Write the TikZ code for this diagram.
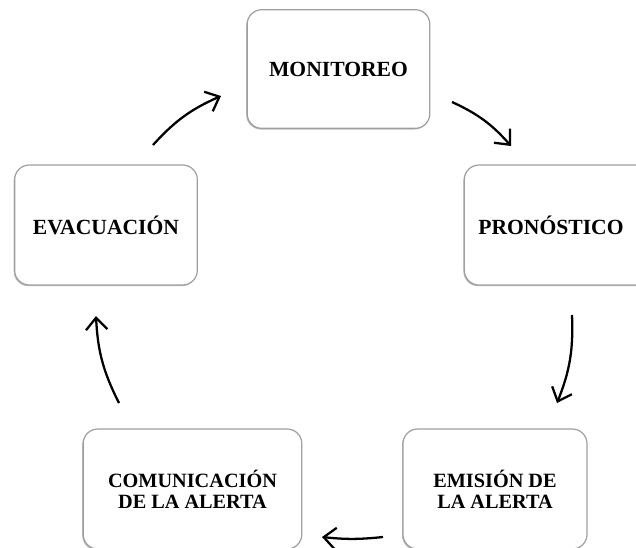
\documentclass[tikz,border=0pt]{standalone}
\usepackage{fontspec}
\setmainfont{Liberation Serif}
\usetikzlibrary{arrows.meta,shadows}
\begin{document}
\begin{tikzpicture}[x=0.75pt,y=-0.75pt,
  stagebox/.style={draw=gray!75, line width=0.9pt, rounded corners=11pt, fill=white,
    align=center, font=\fontsize{16.2}{16.5}\selectfont\bfseries, inner sep=0pt,
    drop shadow={shadow xshift=-0.7pt, shadow yshift=-0.9pt, fill=gray!70, opacity=0.8}},
  twoline/.style={font=\fontsize{15.2}{15.8}\selectfont\bfseries},
  flow/.style={line width=1.7pt, -{Straight Barb[length=9pt, width=16pt, line width=1.7pt]}, bend left=12}]
\useasboundingbox (0,0) rectangle (636,547);
\node[stagebox, minimum width=137pt, minimum height=89pt] (mon) at (338.5,69) {MONITOREO};
\node[stagebox, minimum width=142pt, minimum height=90pt] (pro) at (559,225) {PRONÓSTICO\hspace*{12pt}};
\node[stagebox, twoline, minimum width=138pt, minimum height=90pt] (emi) at (495,489) {EMISIÓN DE\\LA ALERTA};
\node[stagebox, twoline, minimum width=164pt, minimum height=90pt] (com) at (192.5,489) {COMUNICACIÓN\\DE LA ALERTA};
\node[stagebox, minimum width=137pt, minimum height=90pt] (eva) at (106,225) {EVACUACIÓN};
\coordinate (a1s) at (153,145); \coordinate (a1e) at (221,96);
\coordinate (a2s) at (452,102); \coordinate (a2e) at (511,146);
\coordinate (a3s) at (572,315); \coordinate (a3e) at (557,403);
\coordinate (a4s) at (383,537); \coordinate (a4e) at (322,537);
\coordinate (a5s) at (119,403); \coordinate (a5e) at (96,316);
\draw[flow] (a1s) to (a1e);
\draw[flow] (a2s) to (a2e);
\draw[flow] (a3s) to (a3e);
\draw[flow, bend left=6] (a4s) to (a4e);
\draw[flow] (a5s) to (a5e);
\end{tikzpicture}
\end{document}
